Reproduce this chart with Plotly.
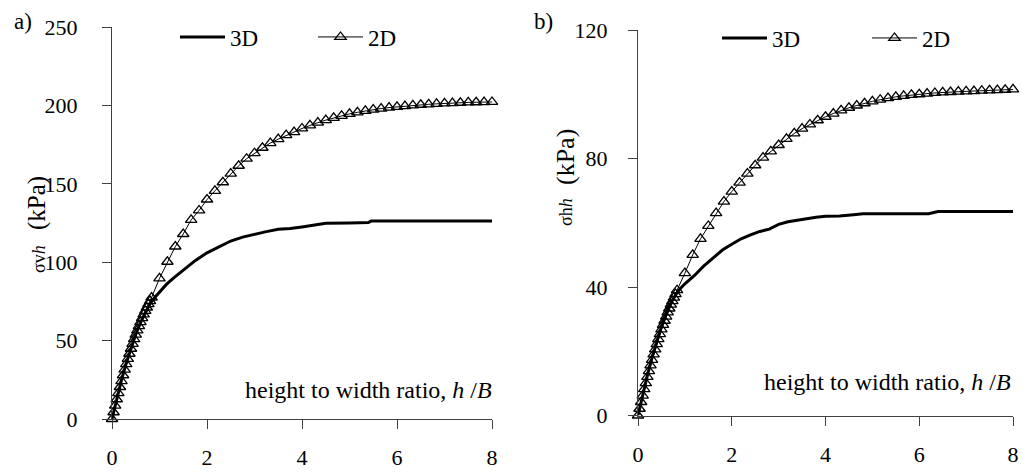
import plotly.graph_objects as go

# ---------------- data: panel a) vertical stress ----------------
a_3d_x = [0, 0.1, 0.2, 0.3, 0.4, 0.5, 0.6, 0.7, 0.8, 0.9, 1.0, 1.15, 1.3, 1.5, 1.75,
          2.0, 2.25, 2.5, 2.75, 3.0, 3.25, 3.5, 3.75, 4.0, 4.25, 4.5, 5.0, 5.4, 5.45,
          6.0, 7.0, 8.0]
a_3d_y = [0, 13, 25, 35.5, 45, 54, 61.5, 68, 73.5, 77.5, 81, 86, 90, 95, 101,
          106, 110, 113.5, 116, 118, 119.5, 121, 121.5, 122.5, 123.5, 124.8, 125, 125.3, 126.2,
          126.2, 126.2, 126.2]

a_2d_x = [0, 0.0333, 0.0667, 0.1, 0.1333, 0.1667, 0.2, 0.2333, 0.2667, 0.3, 0.3333, 0.3667,
          0.4, 0.4333, 0.4667, 0.5, 0.5333, 0.5667, 0.6, 0.6333, 0.6667, 0.7, 0.7333, 0.7667,
          0.8, 0.8333, 1.0, 1.1667, 1.3333, 1.5, 1.6667, 1.8333, 2.0, 2.1667, 2.3333, 2.5,
          2.6667, 2.8333, 3.0, 3.1667, 3.3333, 3.5, 3.6667, 3.8333, 4.0, 4.1667, 4.3333, 4.5,
          4.6667, 4.8333, 5.0, 5.1667, 5.3333, 5.5, 5.6667, 5.8333, 6.0, 6.1667, 6.3333, 6.5,
          6.6667, 6.8333, 7.0, 7.1667, 7.3333, 7.5, 7.6667, 7.8333, 8.0]
a_2d_y = [0, 4.3, 8.5, 12.6, 16.5, 20.4, 24.2, 27.9, 31.5, 35.0, 38.3, 41.6,
          44.8, 47.9, 50.9, 53.8, 56.5, 59.2, 61.8, 64.3, 66.7, 68.9, 71.1, 73.2,
          75.2, 77.5, 89.7, 100.3, 110, 118, 127, 133, 140, 145.5, 151, 156.5,
          161.5, 166, 169.5, 173, 176, 178.5, 181, 183, 185.3, 187.3, 189, 190.6,
          192, 193.3, 194.6, 195.6, 196.5, 197.3, 198, 198.6, 199.1, 199.6, 200, 200.4,
          200.7, 201, 201.3, 201.5, 201.7, 201.9, 202, 202.1, 202.2]

# ---------------- data: panel b) horizontal stress ----------------
b_3d_x = [0, 0.1, 0.2, 0.3, 0.4, 0.5, 0.6, 0.7, 0.8, 0.9, 1.0, 1.2, 1.4, 1.6, 1.8,
          2.0, 2.2, 2.4, 2.6, 2.8, 3.0, 3.2, 3.4, 3.6, 3.8, 4.0, 4.3, 4.6, 4.8, 6.2,
          6.4, 8.0]
b_3d_y = [0, 6.5, 12.5, 18, 23, 27.5, 31.5, 35, 37.5, 39.5, 41, 43.5, 46.5, 49, 51.5,
          53.3, 55, 56.2, 57.3, 58, 59.5, 60.3, 60.8, 61.2, 61.7, 62, 62.1, 62.5, 62.8, 62.8,
          63.5, 63.5]

b_2d_x = a_2d_x
b_2d_y = [0, 2.1, 4.2, 6.2, 8.2, 10.1, 12.0, 13.8, 15.6, 17.3, 19.0, 20.6,
          22.2, 23.8, 25.3, 26.8, 28.2, 29.5, 30.8, 32.1, 33.3, 34.5, 35.6, 36.7,
          37.8, 39.0, 44.3, 50, 55, 59, 63, 66.6, 69.7, 72.5, 75.3, 77.9,
          80.3, 82.2, 84.2, 86.1, 87.8, 89.3, 90.6, 91.9, 93.0, 94.0, 95.0, 95.8,
          96.5, 97.2, 97.8, 98.3, 98.8, 99.2, 99.5, 99.8, 100.0, 100.2, 100.4, 100.6,
          100.7, 100.8, 100.9, 101.0, 101.1, 101.2, 101.3, 101.4, 101.5]

x_ticks = [0, 2, 4, 6, 8]
a_y_ticks = [0, 50, 100, 150, 200, 250]
b_y_ticks = [0, 40, 80, 120]

FONT = "Liberation Serif, Times New Roman, serif"
W, H = 1023, 474
AXC = "#404040"

fig = go.Figure()

def add_panel(x3, y3, x2, y2, xa, ya, leg):
    fig.add_trace(go.Scatter(x=x3, y=y3, mode="lines", name="3D",
                             line=dict(color="black", width=3),
                             xaxis=xa, yaxis=ya, legend=leg, cliponaxis=False))
    fig.add_trace(go.Scatter(x=x2, y=y2, mode="lines+markers", name="2D",
                             line=dict(color="black", width=1),
                             marker=dict(symbol="triangle-up-open", size=10, color="black",
                                         line=dict(width=1.3)),
                             xaxis=xa, yaxis=ya, legend=leg, cliponaxis=False))

add_panel(a_3d_x, a_3d_y, a_2d_x, a_2d_y, "x", "y", "legend")
add_panel(b_3d_x, b_3d_y, b_2d_x, b_2d_y, "x2", "y2", "legend2")

axis_common = dict(showgrid=False, zeroline=False, showline=True, linecolor=AXC,
                   linewidth=1, ticks="outside", ticklen=9, tickcolor=AXC,
                   tickfont=dict(family=FONT, size=22, color="black"))

fig.update_layout(
    width=W, height=H, margin=dict(l=0, r=0, t=0, b=0, autoexpand=False),
    paper_bgcolor="white", plot_bgcolor="white",
    font=dict(family=FONT, color="black"),
    xaxis=dict(domain=[112 / W, 492 / W], range=[0, 8], tickvals=x_ticks,
               ticklabelstandoff=10, anchor="y", **axis_common),
    yaxis=dict(domain=[1 - 419 / H, 1 - 27 / H], range=[0, 250], tickvals=a_y_ticks,
               ticklabelstandoff=20, anchor="x", **axis_common),
    xaxis2=dict(domain=[638 / W, 1013 / W], range=[0, 8], tickvals=x_ticks,
                ticklabelstandoff=10, anchor="y2", **axis_common),
    yaxis2=dict(domain=[1 - 415.5 / H, 1 - 30 / H], range=[0, 120], tickvals=b_y_ticks,
                ticklabelstandoff=16, anchor="x2", **axis_common),
    legend=dict(orientation="h", x=175 / W, y=1 - 37 / H, xanchor="left", yanchor="middle",
                font=dict(family=FONT, size=23, color="black"), bgcolor="rgba(0,0,0,0)",
                entrywidth=78, entrywidthmode="pixels", itemwidth=45,
                traceorder="normal"),
    legend2=dict(orientation="h", x=717 / W, y=1 - 38 / H, xanchor="left", yanchor="middle",
                 font=dict(family=FONT, size=23, color="black"), bgcolor="rgba(0,0,0,0)",
                 entrywidth=90, entrywidthmode="pixels", itemwidth=45,
                 traceorder="normal"),
    showlegend=True,
)

def ann(text, px, py, size, angle=0, xanchor="center"):
    fig.add_annotation(text=text, x=px / W, y=1 - py / H, xref="paper", yref="paper",
                       showarrow=False, textangle=angle, xanchor=xanchor, yanchor="middle",
                       font=dict(family=FONT, size=size, color="black"))

ann("a)", 23, 22, 23)
ann("b)", 543, 22, 23)
ann("(kPa)", 37, 203, 25, -90)
ann("σv<i>h</i>", 39, 259, 18, -90)
ann("(kPa)", 565, 157, 26, -90)
ann("σh<i>h</i>", 566, 212, 18, -90)
ann("height to width ratio, <i>h</i> /<i>B</i>", 494, 390, 24, xanchor="right")
ann("height to width ratio, <i>h</i> /<i>B</i>", 1013, 382, 24, xanchor="right")

fig.write_html("out.html")
